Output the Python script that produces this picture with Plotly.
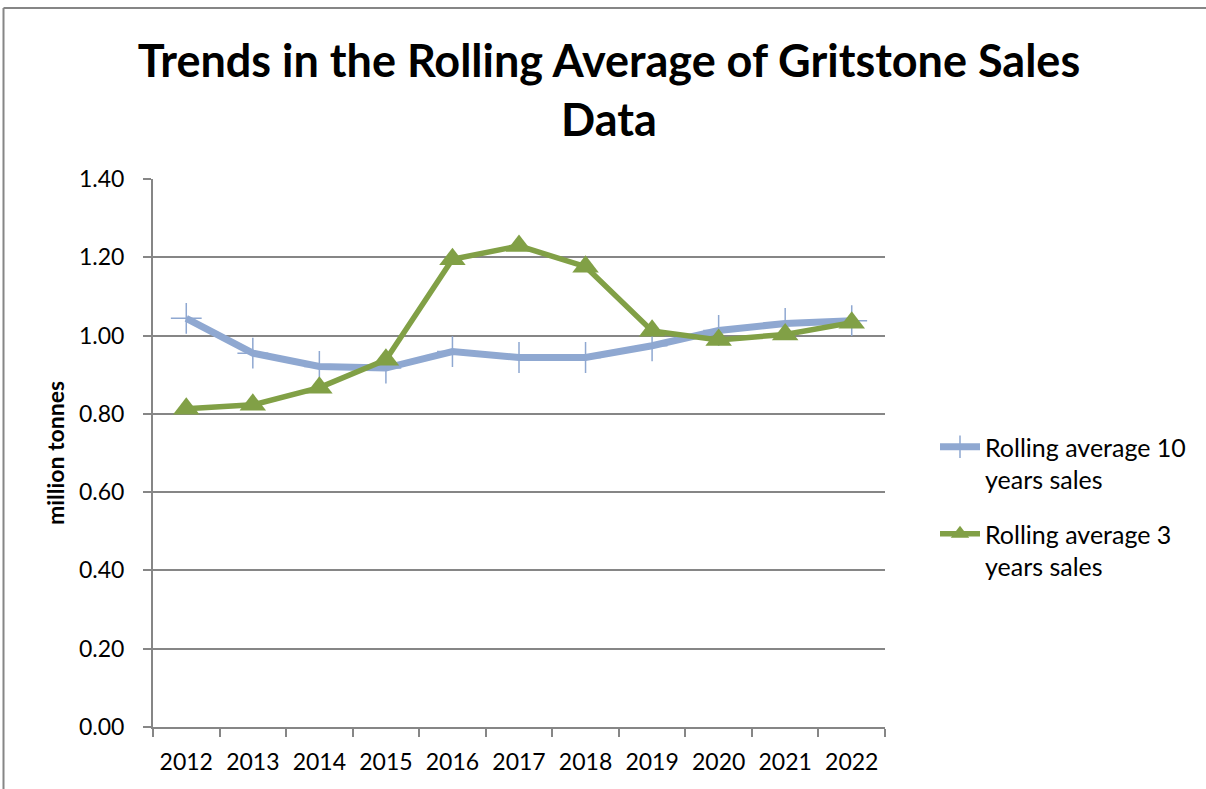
import plotly.graph_objects as go

years = ["2012", "2013", "2014", "2015", "2016", "2017", "2018", "2019", "2020", "2021", "2022"]
rolling_10 = [1.044, 0.955, 0.921, 0.917, 0.959, 0.944, 0.944, 0.974, 1.013, 1.031, 1.038]
rolling_3 = [0.813, 0.823, 0.867, 0.938, 1.195, 1.229, 1.176, 1.012, 0.989, 1.003, 1.033]
name_10 = "Rolling average 10<br>years sales"
name_3 = "Rolling average 3<br>years sales"

FONT = "Lato"
GRAY = "#868686"
BLUE = "#8FA8D1"
GREEN = "#81A046"

ML, MR, MT, MB = 153, 321, 179, 62
W, H = 1206, 789
PW, PH = W - ML - MR, H - MT - MB

fig = go.Figure()
fig.add_trace(go.Scatter(
    x=years, y=rolling_10, name=name_10, mode="lines+markers", legendgroup="a",
    line=dict(color=BLUE, width=7),
    marker=dict(symbol="cross-thin", size=22, line=dict(color=BLUE, width=1.5), color=BLUE),
))
fig.add_trace(go.Scatter(
    x=years, y=rolling_3, name=name_3, mode="lines+markers", legendgroup="b",
    line=dict(color=GREEN, width=5.5),
    marker=dict(symbol="triangle-up", size=23, color=GREEN),
))

def px_x(p):
    return (p - ML) / PW

def px_y(p):
    return (H - MB - p) / PH

fig.add_shape(type="line", xref="paper", yref="paper",
              x0=px_x(3.5), x1=px_x(W + 5), y0=px_y(8), y1=px_y(8),
              line=dict(color=GRAY, width=2))
fig.add_shape(type="line", xref="paper", yref="paper",
              x0=px_x(3.5), x1=px_x(3.5), y0=px_y(8), y1=px_y(H + 5),
              line=dict(color=GRAY, width=2))

fig.update_layout(
    width=W, height=H,
    margin=dict(l=ML, r=MR, t=MT, b=MB, autoexpand=False),
    paper_bgcolor="white", plot_bgcolor="white",
    font=dict(family=FONT, color="black", size=23),
    title=dict(
        text="<b>Trends in the Rolling Average of Gritstone Sales<br>Data</b>",
        x=609 / W, xanchor="center", y=1 - 77 / H, yanchor="top",
        font=dict(family=FONT, size=45, color="black"),
    ),
    showlegend=True,
    legend=dict(
        x=px_x(935), xanchor="left", y=px_y(424), yanchor="top",
        font=dict(family=FONT, size=25, color="black"),
        bgcolor="rgba(0,0,0,0)", tracegroupgap=19, itemwidth=40, valign="top",
    ),
    xaxis=dict(
        type="category", showgrid=False, showline=True, linecolor=GRAY, linewidth=2,
        ticks="outside", tickson="boundaries", ticklen=8, tickcolor=GRAY, tickwidth=1.5,
        ticklabelstandoff=13, tickfont=dict(family=FONT, size=23),
        range=[-0.5, 10.5],
    ),
    yaxis=dict(
        range=[0, 1.4], dtick=0.2, tickformat=".2f",
        showgrid=True, gridcolor=GRAY, gridwidth=2,
        showline=True, linecolor=GRAY, linewidth=2, zeroline=False,
        ticks="outside", ticklen=8, tickcolor=GRAY, tickwidth=1.5,
        ticklabelstandoff=14, tickfont=dict(family=FONT, size=23),
        title=dict(text="<b>million tonnes</b>", font=dict(family=FONT, size=23), standoff=8),
    ),
)

fig.write_html("out.html")
